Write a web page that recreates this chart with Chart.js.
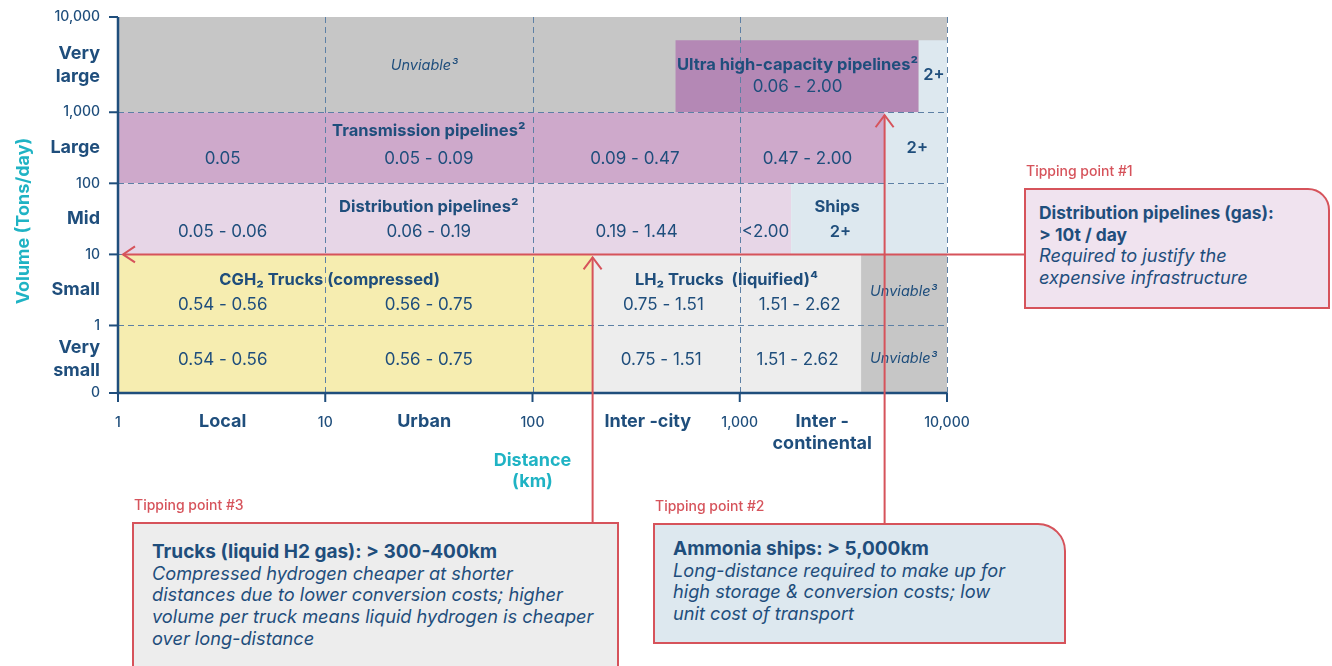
<!DOCTYPE html>
<html>
<head>
<meta charset="utf-8">
<script src="https://cdn.jsdelivr.net/npm/chart.js@4.4.1/dist/chart.umd.min.js"></script>
<style>
  body { margin: 0; background: #fff; font-family: Inter, "Noto Sans", sans-serif; }
  #wrap { position: relative; width: 1332px; height: 666px; overflow: hidden; }
  #c { position: absolute; left: 0; top: 0; }
  .tip { position: absolute; color: #d6535b; font-size: 14px; font-weight: 500; line-height: 16px; white-space: nowrap; }
  .box { position: absolute; box-sizing: border-box; border: 2px solid #d6535b; color: #1f4e7c;
         font-size: 17.4px; line-height: 21.7px; white-space: nowrap; }
  .box b { font-weight: 700; }
  .box i { font-style: italic; font-size: 18.2px; }
</style>
</head>
<body>
<div id="wrap">
  <canvas id="c" width="1332" height="666"></canvas>
</div>
<script>
const distanceTicks = [1, 10, 100, 1000, 10000];
const distanceTickLabels = ["1", "10", "100", "1,000", "10,000"];
const distanceBands = ["Local", "Urban", "Inter -city", "Inter -\ncontinental"];
const distanceBandKm = [3.2, 30, 360, 2500];

const volumeTicks = [0, 1, 10, 100, 1000, 10000];
const volumeTickLabels = ["0", "1", "10", "100", "1,000", "10,000"];
const volumeBands = ["Very\nsmall", "Small", "Mid", "Large", "Very\nlarge"];

// [km from, km to, t/day from, t/day to, kind]
const zones = [
  [1, 10000, 1000, 10000, "unviable"],
  [490, 7300, 1000, 5700, "ultra"],
  [7300, 10000, 1000, 5700, "ship"],
  [1, 5000, 100, 1000, "transmission"],
  [5000, 10000, 100, 1000, "ship"],
  [1, 1770, 10, 100, "distribution"],
  [1770, 10000, 10, 100, "ship"],
  [1, 195, 0, 10, "cgh2"],
  [195, 3850, 0, 10, "lh2"],
  [3850, 10000, 0, 10, "unviable"]
];

// cost labels in $/kg: [text, km, row position, kind]
const cellLabels = [
  ["Unviable³", 30, 4.61, "note"],
  ["Ultra high-capacity pipelines²", 1900, 4.61, "head"],
  ["0.06 - 2.00", 1900, 4.31, "value"],
  ["2+", 8650, 4.47, "plus"],
  ["Transmission pipelines²", 31.6, 3.69, "head"],
  ["0.05", 3.2, 3.29, "value"],
  ["0.05 - 0.09", 31.6, 3.29, "value"],
  ["0.09 - 0.47", 312, 3.29, "value"],
  ["0.47 - 2.00", 2120, 3.29, "value"],
  ["2+", 7190, 3.45, "plus"],
  ["Distribution pipelines²", 31.6, 2.62, "head"],
  ["0.05 - 0.06", 3.2, 2.26, "value"],
  ["0.06 - 0.19", 31.6, 2.26, "value"],
  ["0.19 - 1.44", 318, 2.26, "value"],
  ["<2.00", 1330, 2.26, "value"],
  ["Ships", 2950, 2.62, "head"],
  ["2+", 3060, 2.26, "plus"],
  ["CGH₂ Trucks (compressed)", 10.5, 1.59, "head"],
  ["0.54 - 0.56", 3.2, 1.24, "value"],
  ["0.56 - 0.75", 31.6, 1.24, "value"],
  ["LH₂ Trucks  (liquified)⁴", 863, 1.59, "head"],
  ["0.75 - 1.51", 428, 1.24, "value"],
  ["1.51 - 2.62", 1946, 1.24, "value"],
  ["Unviable³", 6170, 1.42, "note"],
  ["0.54 - 0.56", 3.2, 0.46, "value"],
  ["0.56 - 0.75", 31.6, 0.46, "value"],
  ["0.75 - 1.51", 418, 0.46, "value"],
  ["1.51 - 2.62", 1900, 0.46, "value"],
  ["Unviable³", 6170, 0.49, "note"]
];

const tippingVolume = 10;    // t/day
const tippingTruckKm = 195;
const tippingShipKm = 5000;

const NAVY = "#1f4e7c";
const TEAL = "#1fb3c4";
const RED = "#d6535b";
const zoneColors = {
  unviable: "#c6c6c6", ultra: "#b488b5", transmission: "#cea9cb", distribution: "#e7d6e7",
  ship: "#dde8ef", cgh2: "#f6edb0", lh2: "#ededed"
};
const labelFonts = {
  value: "400 17px Inter", head: "700 16.5px Inter", plus: "600 16.5px Inter", note: "italic 400 14.5px Inter"
};

const callouts = [
  { tip: "Tipping point #1", left: 1024, top: 188, width: 306, height: 121, radius: 22, pad: [12, 13], fill: "#f0e3ef", boldSize: 17.4,
    bold: ["Distribution pipelines (gas):", "> 10t / day"], italic: ["Required to justify the", "expensive infrastructure"] },
  { tip: "Tipping point #3", left: 132, top: 522, width: 487, height: 170, radius: 0, pad: [17, 18], fill: "#ededed", boldSize: 19,
    bold: ["Trucks (liquid H2 gas): > 300-400km"],
    italic: ["Compressed hydrogen cheaper at shorter", "distances due to lower conversion costs; higher",
             "volume per truck means liquid hydrogen is cheaper", "over long-distance"] },
  { tip: "Tipping point #2", left: 653, top: 523, width: 413, height: 121, radius: 28, pad: [13, 18], fill: "#dde8ef", boldSize: 19,
    bold: ["Ammonia ships: > 5,000km"],
    italic: ["Long-distance required to make up for", "high storage & conversion costs; low", "unit cost of transport"] }
];

// rows are not equal height: the top decade is stretched
function volToY(v) {
  if (v <= 1) return v * 0.95;
  const d = Math.log10(v);
  return d <= 3 ? 0.95 + d : 3.95 + (d - 3) * 1.34;
}

const wrap = document.getElementById("wrap");
callouts.forEach(c => {
  const t = document.createElement("div");
  t.className = "tip";
  t.style.left = (c.left + 2) + "px";
  t.style.top = (c.top - 25) + "px";
  t.textContent = c.tip;
  wrap.appendChild(t);

  const b = document.createElement("div");
  b.className = "box";
  Object.assign(b.style, {
    left: c.left + "px", top: c.top + "px", width: c.width + "px", height: c.height + "px",
    background: c.fill, borderTopRightRadius: c.radius + "px",
    padding: c.pad[0] + "px " + c.pad[1] + "px"
  });
  b.innerHTML = c.bold.map(s => '<b style="font-size:' + c.boldSize + 'px">' + s + "</b>").join("<br>") + "<br>" +
                c.italic.map(s => "<i>" + s + "</i>").join("<br>");
  wrap.appendChild(b);
});

function multiline(ctx, text, x, y, lh) {
  const lines = text.split("\n");
  const y0 = y - (lines.length - 1) * lh / 2;
  lines.forEach((l, i) => ctx.fillText(l, x, y0 + i * lh));
}

const matrixPlugin = {
  id: "matrix",
  afterDraw(chart) {
    const { ctx, chartArea: a, scales: { x, y } } = chart;
    const px = v => x.getPixelForValue(v);
    const py = v => y.getPixelForValue(volToY(v));
    ctx.save();

    zones.forEach(z => {
      ctx.fillStyle = zoneColors[z[4]];
      const l = px(z[0]), r = px(z[1]), t = py(z[3]), b = py(z[2]);
      ctx.fillRect(l, t, r - l, b - t);
    });

    // dashed grid
    ctx.strokeStyle = "#5d80a5";
    ctx.lineWidth = 1;
    ctx.setLineDash([6, 4]);
    distanceTicks.slice(1).forEach(v => {
      const X = Math.round(px(v)) + 0.5;
      ctx.beginPath(); ctx.moveTo(X, a.top); ctx.lineTo(X, a.bottom); ctx.stroke();
    });
    [1, 10, 100, 1000].forEach(v => {
      const Y = Math.round(py(v)) + 0.5;
      ctx.beginPath(); ctx.moveTo(a.left, Y); ctx.lineTo(a.right, Y); ctx.stroke();
    });
    ctx.setLineDash([]);

    // cell labels
    ctx.fillStyle = NAVY;
    ctx.textAlign = "center";
    ctx.textBaseline = "middle";
    cellLabels.forEach(([txt, km, row, kind]) => {
      ctx.font = labelFonts[kind];
      ctx.fillText(txt, px(km), y.getPixelForValue(row));
    });

    // axes
    ctx.strokeStyle = NAVY;
    ctx.lineWidth = 2.5;
    ctx.beginPath();
    ctx.moveTo(a.left, a.top); ctx.lineTo(a.left, a.bottom); ctx.lineTo(a.right, a.bottom);
    ctx.stroke();
    ctx.lineWidth = 2;
    volumeTicks.forEach(v => {
      const Y = py(v);
      ctx.beginPath(); ctx.moveTo(a.left - 9, Y); ctx.lineTo(a.left, Y); ctx.stroke();
    });
    distanceTicks.forEach(v => {
      const X = px(v);
      ctx.beginPath(); ctx.moveTo(X, a.bottom); ctx.lineTo(X, a.bottom + 9); ctx.stroke();
    });

    // tick labels
    ctx.fillStyle = NAVY;
    ctx.font = "500 14px Inter";
    ctx.textAlign = "right";
    volumeTicks.forEach((v, i) => ctx.fillText(volumeTickLabels[i], a.left - 18, py(v)));
    ctx.textAlign = "center";
    distanceTicks.forEach((v, i) => ctx.fillText(distanceTickLabels[i], px(v), a.bottom + 30));

    // band labels
    ctx.font = "700 18px Inter";
    ctx.textAlign = "right";
    volumeBands.forEach((s, i) => {
      const Y = (py(volumeTicks[i]) + py(volumeTicks[i + 1])) / 2;
      multiline(ctx, s, a.left - 18, Y, 23);
    });
    ctx.textAlign = "center";
    distanceBands.forEach((s, i) => {
      const lines = s.split("\n");
      lines.forEach((l, j) => ctx.fillText(l, px(distanceBandKm[i]), a.bottom + 29 + j * 22));
    });

    // axis titles
    ctx.fillStyle = TEAL;
    ctx.font = "700 18px Inter";
    ctx.fillText("Distance", px(100), a.bottom + 68);
    ctx.fillText("(km)", px(100), a.bottom + 89);
    ctx.save();
    ctx.translate(24, 221);
    ctx.rotate(-Math.PI / 2);
    ctx.fillText("Volume (Tons/day)", 0, 0);
    ctx.restore();

    // tipping point lines
    ctx.strokeStyle = RED;
    ctx.lineWidth = 2;
    const arrow = (x1, y1, x2, y2, dx, dy) => {
      ctx.beginPath(); ctx.moveTo(x1, y1); ctx.lineTo(x2, y2); ctx.stroke();
      ctx.beginPath();
      if (dx) { ctx.moveTo(x2 + 12, y2 - 8); ctx.lineTo(x2, y2); ctx.lineTo(x2 + 12, y2 + 8); }
      else { ctx.moveTo(x2 - 9, y2 + 12); ctx.lineTo(x2, y2); ctx.lineTo(x2 + 9, y2 + 12); }
      ctx.stroke();
    };
    const yT = py(tippingVolume);
    arrow(callouts[0].left, yT, px(1) + 5, yT, 1, 0);
    arrow(px(tippingTruckKm), callouts[1].top, px(tippingTruckKm), yT + 3, 0, 1);
    arrow(px(tippingShipKm), callouts[2].top, px(tippingShipKm), py(1000) + 3, 0, 1);

    ctx.restore();
  }
};

new Chart(document.getElementById("c"), {
  type: "scatter",
  data: { datasets: [{ data: [] }] },
  options: {
    responsive: false,
    animation: false,
    events: [],
    layout: { padding: { left: 0, top: 17, right: 385, bottom: 0 } },
    plugins: { legend: { display: false }, tooltip: { enabled: false } },
    scales: {
      x: {
        type: "logarithmic", min: 1, max: 10000,
        ticks: { display: false }, grid: { display: false }, border: { display: false },
        afterFit: s => { s.height = 273; }
      },
      y: {
        type: "linear", min: 0, max: volToY(10000),
        ticks: { display: false }, grid: { display: false }, border: { display: false },
        afterFit: s => { s.width = 118; }
      }
    }
  },
  plugins: [matrixPlugin]
});
</script>
</body>
</html>
